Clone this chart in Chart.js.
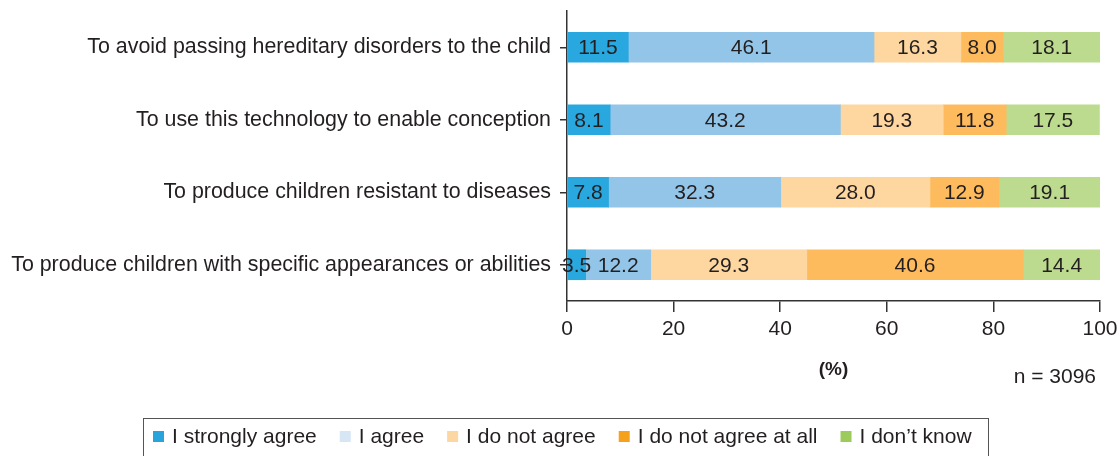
<!DOCTYPE html>
<html>
<head>
<meta charset="utf-8">
<script src="https://cdn.jsdelivr.net/npm/chart.js@4/dist/chart.umd.min.js"></script>
<style>
  body { margin: 0; background: #fff; }
  #wrap { width: 1120px; height: 456px; }
</style>
</head>
<body>
<div id="wrap"><canvas id="surveyChart" width="1120" height="456"></canvas></div>
<script>
const categories = [
  "To avoid passing hereditary disorders to the child",
  "To use this technology to enable conception",
  "To produce children resistant to diseases",
  "To produce children with specific appearances or abilities",
];
const seriesNames = ["I strongly agree", "I agree", "I do not agree", "I do not agree at all", "I don\u2019t know"];
const stronglyAgree = [11.5, 8.1, 7.8, 3.5];
const agree = [46.1, 43.2, 32.3, 12.2];
const doNotAgree = [16.3, 19.3, 28.0, 29.3];
const notAtAll = [8.0, 11.8, 12.9, 40.6];
const dontKnow = [18.1, 17.5, 19.1, 14.4];
const xTicks = [0, 20, 40, 60, 80, 100];
const sampleNote = "n = 3096";

const barColors = ["#29a7df", "#93c5e8", "#fed69f", "#fdbb5e", "#bcdb8e"];
const legendColors = ["#29a3dc", "#d6e6f4", "#fdd7a1", "#f5a11c", "#9ccb5c"];
const textColor = "#231f20";
const axisColor = "#333";
const fontFamily = "'Liberation Sans', Arial, Helvetica, sans-serif";

const allSeries = [stronglyAgree, agree, doNotAgree, notAtAll, dontKnow];

// values written in the middle of each segment
const segmentLabels = {
  id: "segmentLabels",
  afterDatasetsDraw(chart) {
    const ctx = chart.ctx;
    ctx.save();
    ctx.font = "21px " + fontFamily;
    ctx.fillStyle = textColor;
    ctx.textAlign = "center";
    ctx.textBaseline = "middle";
    chart.data.datasets.forEach((ds, i) => {
      const meta = chart.getDatasetMeta(i);
      meta.data.forEach((bar, j) => {
        const x = (bar.x + bar.base) / 2;
        ctx.fillText(ds.data[j].toFixed(1), x, bar.y + 1);
      });
    });
    ctx.restore();
  },
};

// boxed legend at the bottom plus the n note
const boxLegend = {
  id: "boxLegend",
  afterDraw(chart) {
    const ctx = chart.ctx;
    ctx.save();
    ctx.strokeStyle = "#555";
    ctx.lineWidth = 1;
    ctx.strokeRect(143.5, 418.5, 845, 45);

    ctx.font = "21px " + fontFamily;
    ctx.textBaseline = "middle";
    ctx.textAlign = "left";
    let x = 153;
    const y = 436;
    seriesNames.forEach((name, i) => {
      ctx.fillStyle = legendColors[i];
      ctx.fillRect(x, y - 5, 11, 11);
      x += 19;
      ctx.fillStyle = textColor;
      ctx.fillText(name, x, y + 1);
      x += ctx.measureText(name).width + 23;
    });

    ctx.textAlign = "right";
    ctx.fillText(sampleNote, 1096, 377);
    ctx.restore();
  },
};

new Chart(document.getElementById("surveyChart"), {
  type: "bar",
  data: {
    labels: categories,
    datasets: allSeries.map((vals, i) => ({
      label: seriesNames[i],
      data: vals,
      backgroundColor: barColors[i],
      borderWidth: 0,
      barThickness: 30,
    })),
  },
  options: {
    indexAxis: "y",
    responsive: false,
    animation: false,
    layout: { padding: { top: 11, right: 20, left: 0, bottom: 0 } },
    plugins: {
      legend: { display: false },
      tooltip: { enabled: false },
    },
    scales: {
      x: {
        stacked: true,
        min: 0,
        max: 100,
        afterBuildTicks(scale) {
          scale.ticks = xTicks.map((v) => ({ value: v }));
        },
        afterFit(scale) {
          scale.height = 155;
          scale.paddingLeft = 0;
          scale.paddingRight = 0;
        },
        grid: {
          drawOnChartArea: false,
          drawTicks: true,
          tickLength: 11,
          color: axisColor,
          lineWidth: 1.5,
        },
        border: { color: axisColor, width: 1.5 },
        ticks: {
          padding: 5,
          color: textColor,
          font: { family: fontFamily, size: 21 },
        },
        title: {
          display: true,
          text: "(%)",
          color: textColor,
          font: { family: fontFamily, size: 19, weight: "bold" },
          padding: { top: 4, bottom: 75 },
        },
      },
      y: {
        stacked: true,
        afterFit(scale) {
          scale.width = 567;
          scale.paddingTop = 0;
          scale.paddingBottom = 0;
        },
        grid: {
          drawOnChartArea: false,
          drawTicks: true,
          tickLength: 7,
          offset: false,
          color: axisColor,
          lineWidth: 1.5,
        },
        border: { color: axisColor, width: 1.5 },
        ticks: {
          padding: 9,
          color: textColor,
          font: { family: fontFamily, size: 21.4 },
        },
      },
    },
  },
  plugins: [segmentLabels, boxLegend],
});
</script>
</body>
</html>
